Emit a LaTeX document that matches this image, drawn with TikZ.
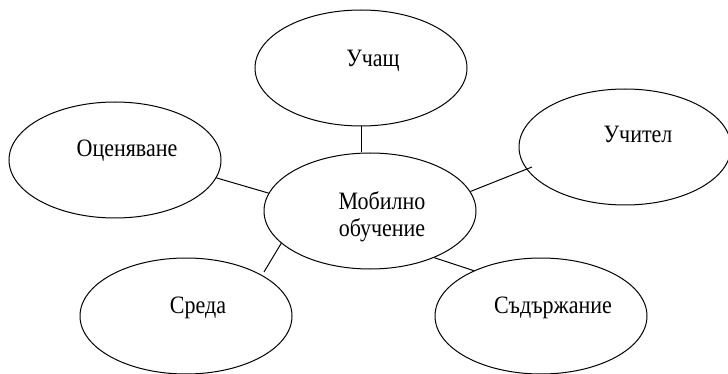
\documentclass[tikz,border=0pt]{standalone}
\usepackage{fontspec}
\setmainfont{Liberation Serif}[FakeStretch=0.88]
\usetikzlibrary{shapes.geometric,calc}
\begin{document}
\begin{tikzpicture}[x=1pt,y=-1pt,
  bub/.style={ellipse,draw,line width=1pt,minimum width=212pt,minimum height=116pt,inner sep=0pt},
  lbl/.style={font=\fontsize{25}{27}\selectfont,inner sep=0pt},
  link/.style={line width=1pt}]
\useasboundingbox (0,0) rectangle (728,374);
\node[bub] (u) at (361,68) {};
\node[bub] (t) at (625,147) {};
\node[bub] (o) at (115,160) {};
\node[bub] (m) at (370,211) {};
\node[bub] (s) at (186,316) {};
\node[bub] (c) at (541,316) {};
\node[lbl,anchor=base] (ut) at ($(u)+(12,-1)$) {Учащ};
\node[lbl,anchor=base] (tt) at ($(t)+(13,-4)$) {Учител};
\node[lbl,anchor=base] (ot) at ($(o)+(12,-3)$) {Оценяване};
\node[lbl,align=center] (mt) at ($(m)+(12,6)$) {Мобилно\\обучение};
\node[lbl,anchor=base] (st) at ($(s)+(12,-3)$) {Среда};
\node[lbl,anchor=base] (ct) at ($(c)+(12,-3)$) {Съдържание};
\draw[link] (u.south) -- (u.south |- m.north);
\draw[link] (o.-10) -- (m.170);
\draw[link] (m.11) -- ($(t.center)+(-93,20)$);
\draw[link] (m.200) -- ($(s.center)+(78,-44)$);
\draw[link] (m.-36) -- (c.146);
\end{tikzpicture}
\end{document}
